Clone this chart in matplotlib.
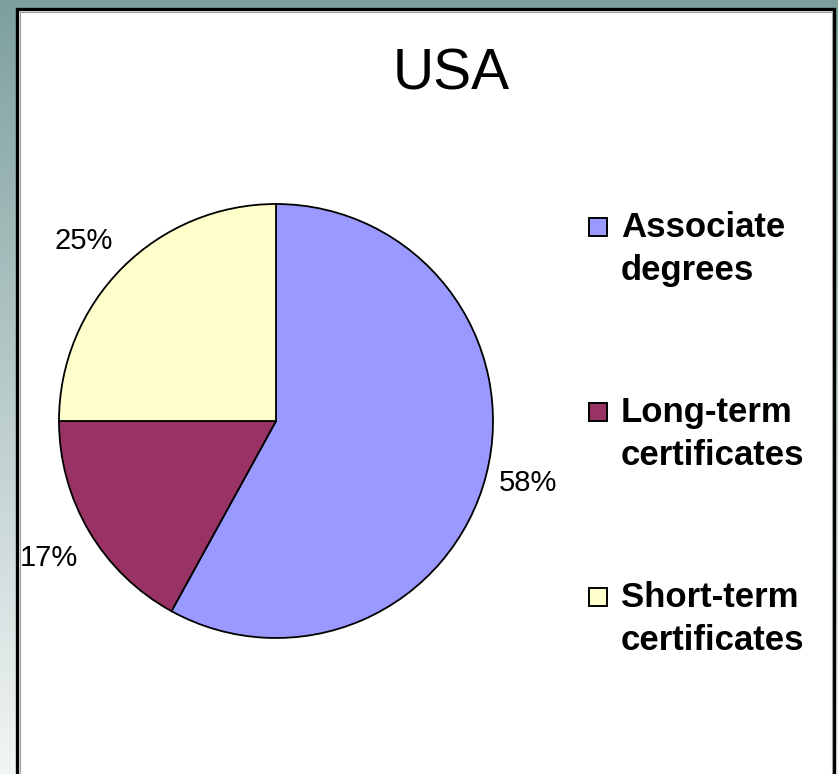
import numpy as np
import matplotlib
matplotlib.use("Agg")
import matplotlib.pyplot as plt
from matplotlib.patches import Rectangle

# data
categories = ["Associate\ndegrees", "Long-term\ncertificates", "Short-term\ncertificates"]
shares = [58, 17, 25]
colors = ["#9999ff", "#993366", "#ffffcc"]
title = "USA"

# small vertical nudges (in pie radius units) so labels sit like Excel's
label_dy = [-0.02, -0.09, 0.08]

W, H = 838, 774
plt.rcParams["font.family"] = ["Liberation Sans", "DejaVu Sans"]

fig = plt.figure(figsize=(W / 100, H / 100), dpi=100)

# slide background: teal gradient fading to near white
bg = fig.add_axes([0, 0, 1, 1])
grad = np.linspace(0, 1, 256).reshape(-1, 1)
top_c = np.array([0x7d, 0xa0, 0x9e]) / 255
bot_c = np.array([0xf2, 0xf5, 0xf5]) / 255
img = top_c[None, None, :] * (1 - grad[..., None]) + bot_c[None, None, :] * grad[..., None]
bg.imshow(img, aspect="auto", extent=[0, W, H, 0])
bg.set_xlim(0, W)
bg.set_ylim(H, 0)
bg.axis("off")

# white chart panel with black border
bg.add_patch(Rectangle((17, 9), 817, 800, facecolor="white", edgecolor="black", lw=2.4, zorder=2))
bg.add_patch(Rectangle((19.5, 11.5), 812, 800, facecolor="none", edgecolor="#a0a0a0", lw=0.8, zorder=2))

# title
fig.text(451 / W, 1 - 74 / H, title, fontsize=41, ha="center", va="center")

# pie
cx, cy, r = 276, 421, 217
ax = fig.add_axes([(cx - r) / W, (H - cy - r) / H, 2 * r / W, 2 * r / H])
wedges, texts = ax.pie(shares, colors=colors, startangle=90, counterclock=False,
                       labels=[f"{s}%" for s in shares], labeldistance=1.06,
                       wedgeprops=dict(edgecolor="black", linewidth=1.3),
                       textprops=dict(fontsize=21))
for t, dy in zip(texts, label_dy):
    x, y = t.get_position()
    t.set_position((x, y + dy))
ax.set_xlim(-1, 1)
ax.set_ylim(-1, 1)
ax.set_aspect("auto")
ax.axis("off")

# legend, drawn by hand so the marker sits on the first line
leg_x, leg_top, step = 621, 211, 185
for i, (lab, col) in enumerate(zip(categories, colors)):
    y = leg_top + i * step
    bg.add_patch(Rectangle((589, y + 7), 18, 18, facecolor=col, edgecolor="black", lw=1.4, zorder=3))
    bg.text(leg_x, y, lab, fontsize=25, fontweight="bold", ha="left", va="top",
            linespacing=1.38, zorder=3)

fig.savefig("out.png", dpi=100)
